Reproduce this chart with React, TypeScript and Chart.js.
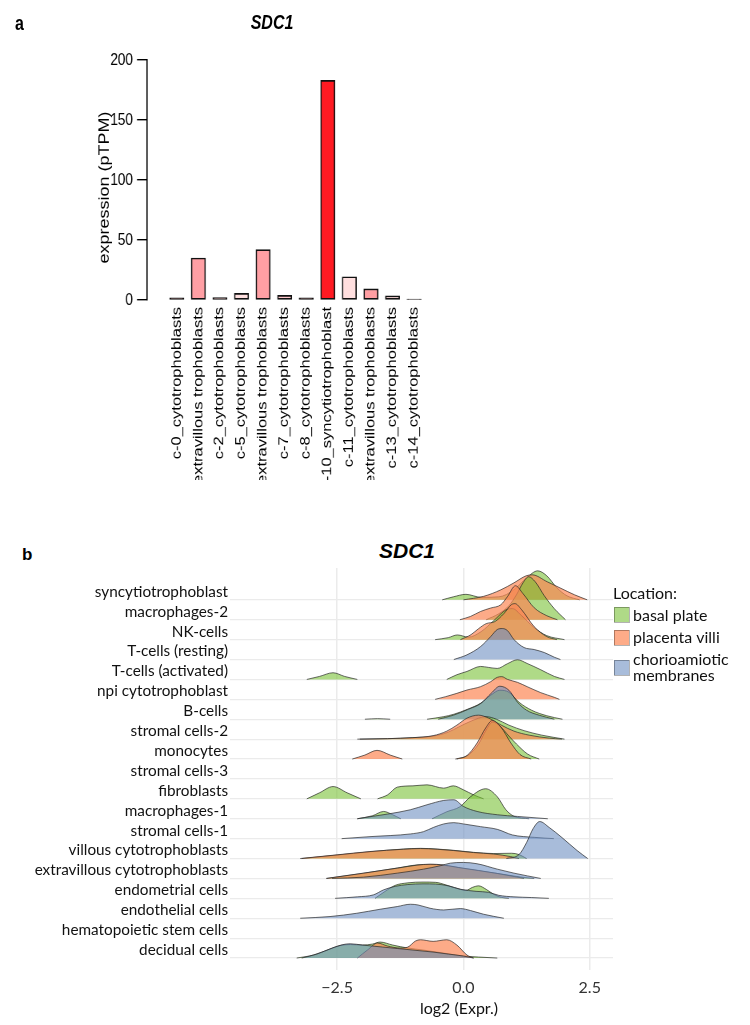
import { useEffect, useRef } from "react"
import { Chart, registerables } from "chart.js"

Chart.register(...registerables)

// ---------- panel a: expression per trophoblast cluster ----------
const clusters = [
  "c-0_cytotrophoblasts",
  "c-1_extravillous trophoblasts",
  "c-2_cytotrophoblasts",
  "c-5_cytotrophoblasts",
  "c-6_extravillous trophoblasts",
  "c-7_cytotrophoblasts",
  "c-8_cytotrophoblasts",
  "c-10_syncytiotrophoblast",
  "c-11_cytotrophoblasts",
  "c-12_extravillous trophoblasts",
  "c-13_cytotrophoblasts",
  "c-14_cytotrophoblasts",
]
const expression = [1.8, 35, 2, 5.5, 42, 3.8, 1.8, 183, 19.4, 9.3, 3.5, 0.8]
const clusterColors = [
  "#2a1616", "#ff9fa4", "#5a4242", "#ffe0e0", "#ff9fa4", "#ffc8cc",
  "#2a1616", "#ff1a22", "#ffdfdf", "#ff9ea2", "#ffd6d6", "#1a1010",
]
const expressionTicks = [0, 50, 100, 150, 200]

// ---------- panel b: ridgeline densities per cell type ----------
const cellTypes = [
  "syncytiotrophoblast",
  "macrophages-2",
  "NK-cells",
  "T-cells (resting)",
  "T-cells (activated)",
  "npi cytotrophoblast",
  "B-cells",
  "stromal cells-2",
  "monocytes",
  "stromal cells-3",
  "fibroblasts",
  "macrophages-1",
  "stromal cells-1",
  "villous cytotrophoblasts",
  "extravillous cytotrophoblasts",
  "endometrial cells",
  "endothelial cells",
  "hematopoietic stem cells",
  "decidual cells",
]
const locations = ["basal plate", "placenta villi", "chorioamiotic membranes"]
const log2Ticks = [-2.5, 0, 2.5]

type Curve = ([number, number] | null)[] | null

// [log2 expr, density] pairs, one entry per cell type (null = no cells); null inside a curve = gap
const basalPlate: Curve[] = [
  [[-0.42, 0], [-0.2, 3], [0.05, 5.5], [0.35, 2.5], [0.7, 3], [1.0, 10], [1.25, 22], [1.47, 29], [1.65, 24], [1.85, 12], [2.05, 4], [2.3, 0]],
  [[0.45, 0], [0.7, 6], [0.9, 14], [1.05, 25], [1.18, 37], [1.29, 43], [1.42, 38], [1.6, 24], [1.8, 11], [2.02, 0]],
  [[-0.56, 0], [-0.3, 2], [-0.12, 4.7], [0.1, 2.5], [0.35, 8], [0.6, 19], [0.85, 30], [0.97, 31], [1.15, 24], [1.4, 12], [1.65, 4], [2.0, 0]],
  null,
  [[-3.1, 0], [-2.85, 3], [-2.58, 6.7], [-2.35, 3], [-2.1, 0], null, [-0.33, 0], [-0.13, 4.7], [0.07, 8], [0.34, 13], [0.5, 12], [0.67, 11], [0.87, 15.7], [1.07, 19.7], [1.26, 16], [1.53, 9.7], [1.8, 3], [2.0, 0]],
  null,
  [[-1.95, 0], [-1.7, 0.6], [-1.45, 0], null, [-0.72, 0], [-0.4, 2.5], [-0.19, 5], [0.08, 10], [0.34, 16], [0.54, 24], [0.72, 29], [0.9, 27], [1.1, 17], [1.35, 9], [1.65, 3.5], [1.96, 0]],
  [[-2.05, 0], [-1.5, 0.5], [-1.0, 1.5], [-0.6, 3], [-0.3, 7], [-0.1, 12], [0.15, 18], [0.45, 22.5], [0.65, 20], [0.9, 14], [1.2, 8.5], [1.55, 4], [2.0, 0]],
  [[-0.13, 0], [0.1, 4], [0.3, 15], [0.45, 29], [0.58, 37], [0.72, 33], [0.9, 23], [1.05, 15], [1.27, 5], [1.5, 0]],
  null,
  [[-3.1, 0], [-2.85, 6], [-2.58, 12.3], [-2.3, 6], [-2.03, 0], null, [-1.7, 0], [-1.5, 4], [-1.31, 11.7], [-1.0, 13], [-0.72, 14], [-0.39, 10.7], [-0.2, 13], [0.0, 9], [0.2, 4], [0.4, 0]],
  [[-2.1, 0], [-1.8, 3], [-1.58, 7.3], [-1.4, 4], [-1.24, 0], null, [-0.62, 0], [-0.33, 7], [-0.07, 12], [0.14, 22], [0.44, 30], [0.67, 22], [0.84, 9], [1.0, 2.5], [1.3, 0]],
  null,
  [[-3.2, 0], [-2.5, 3.5], [-1.85, 6.8], [-1.19, 9.5], [-0.85, 10.2], [-0.52, 9.5], [-0.19, 8.2], [0.2, 6.2], [0.6, 5], [0.95, 5.3], [1.1, 4], [1.25, 0]],
  [[-2.7, 0], [-2.0, 5], [-1.3, 10.5], [-0.9, 13.6], [-0.6, 14], [-0.3, 12.5], [0, 10], [0.4, 7], [0.8, 4], [1.2, 1], [1.4, 0]],
  [[-1.75, 0], [-1.55, 7], [-1.35, 13], [-1.1, 15.5], [-0.8, 16.3], [-0.55, 16], [-0.35, 13.5], [-0.1, 9.5], [0.05, 8], [0.18, 11], [0.3, 12.5], [0.45, 9], [0.6, 4], [0.75, 1], [0.9, 0]],
  null,
  null,
  [[-3.3, 0], [-2.97, 3], [-2.64, 9], [-2.44, 12.5], [-2.24, 13.5], [-2.0, 13], [-1.8, 14], [-1.65, 16], [-1.4, 13], [-1.1, 10], [-0.8, 8], [-0.4, 5], [0, 2], [0.3, 1], [0.67, 0]],
]

const placentaVilli: Curve[] = [
  [[0.0, 0], [0.4, 3.5], [0.74, 10], [1.0, 17], [1.24, 24], [1.36, 25], [1.66, 18], [1.93, 11.5], [2.2, 5], [2.45, 0]],
  [[-0.07, 0], [0.14, 3.3], [0.34, 8.3], [0.54, 11.7], [0.74, 15], [0.87, 23], [1.03, 34], [1.18, 26], [1.4, 12], [1.65, 4], [1.86, 0]],
  [[-0.06, 0], [0.15, 5], [0.3, 11], [0.45, 16], [0.62, 18], [0.8, 26], [0.95, 35], [1.02, 36], [1.15, 30], [1.4, 13], [1.65, 3], [1.85, 0]],
  null,
  null,
  [[-0.56, 0], [-0.35, 2.7], [-0.13, 6], [0.07, 9.3], [0.34, 12.7], [0.54, 17.7], [0.67, 22], [0.76, 22.7], [0.87, 20], [1.07, 17], [1.26, 12.7], [1.53, 6.7], [1.8, 2], [1.9, 0]],
  null,
  [[-2.1, 0], [-1.5, 0.5], [-1.0, 1.5], [-0.6, 3.5], [-0.33, 8], [-0.13, 14], [0.07, 21], [0.3, 24], [0.5, 21], [0.75, 14], [1.0, 8], [1.3, 4], [1.7, 1], [1.95, 0]],
  [[-2.2, 0], [-1.95, 4], [-1.71, 8.7], [-1.45, 4], [-1.21, 0], null, [-0.16, 0], [0.07, 3.5], [0.27, 16], [0.44, 31], [0.57, 38.5], [0.74, 32], [0.94, 16], [1.12, 4.5], [1.34, 0]],
  null,
  null,
  null,
  null,
  [[-3.23, 0], [-2.5, 3.7], [-1.85, 7], [-1.19, 9.3], [-0.85, 10], [-0.52, 9.3], [-0.19, 8], [0.2, 6], [0.6, 4.5], [0.93, 2], [1.1, 0]],
  [[-2.72, 0], [-1.98, 5.3], [-1.31, 10.3], [-0.92, 13.3], [-0.66, 14.3], [-0.4, 13.5], [-0.1, 11], [0.3, 8], [0.67, 5], [1.05, 1.5], [1.2, 0]],
  null,
  null,
  null,
  [[-2.1, 0], [-1.9, 8], [-1.7, 15], [-1.5, 12], [-1.25, 10], [-1.1, 11], [-0.95, 17], [-0.85, 18.3], [-0.6, 16.7], [-0.33, 18.3], [-0.13, 13], [0.07, 3], [0.2, 0]],
]

const chorioMembranes: Curve[] = [
  null,
  null,
  null,
  [[-0.19, 0], [0.07, 4.7], [0.34, 13], [0.54, 23], [0.67, 30], [0.77, 31], [0.87, 29], [1.0, 20], [1.2, 12], [1.4, 10], [1.6, 7], [1.8, 2.3], [1.92, 0]],
  null,
  null,
  [[-0.5, 0], [-0.2, 4], [0.1, 10], [0.35, 16], [0.55, 26], [0.72, 33], [0.9, 29], [1.07, 17], [1.25, 9], [1.5, 4], [1.8, 0]],
  null,
  null,
  null,
  null,
  [[-2.1, 0], [-1.85, 2], [-1.5, 4.7], [-1.05, 9], [-0.72, 14], [-0.39, 18.3], [-0.19, 19], [0.0, 12.3], [0.27, 7.3], [0.67, 4], [1.07, 2.3], [1.67, 0]],
  [[-2.41, 0], [-1.85, 2], [-1.05, 4.7], [-0.79, 7], [-0.59, 11.3], [-0.39, 14.7], [-0.19, 16], [0, 14.7], [0.34, 12], [0.67, 9.3], [0.97, 3.7], [1.4, 1.3], [1.79, 0]],
  [[0.85, 0], [1.1, 4], [1.25, 16], [1.38, 30], [1.51, 37], [1.7, 31], [1.95, 21], [2.25, 8], [2.46, 0]],
  [[-2.6, 0], [-1.98, 1.3], [-1.31, 5.3], [-0.79, 9.3], [-0.46, 12.7], [-0.26, 15.3], [0, 16], [0.27, 14.7], [0.67, 9.3], [1.0, 5.3], [1.53, 0]],
  [[-2.54, 0], [-2.1, 1.5], [-1.78, 3.5], [-1.58, 8.5], [-1.35, 12], [-1.1, 13.8], [-0.8, 14.5], [-0.55, 14.3], [-0.3, 12.5], [-0.05, 9], [0.25, 7], [0.5, 6], [0.7, 3], [1.0, 1.5], [1.35, 0.8], [1.69, 0]],
  [[-3.23, 0], [-2.64, 1.7], [-2.11, 5], [-1.65, 9], [-1.31, 11.7], [-1.05, 14], [-0.9, 13.3], [-0.66, 10], [-0.39, 8.3], [-0.06, 9.7], [0.14, 7.7], [0.4, 4], [0.8, 0]],
  null,
  [[-3.2, 0], [-2.9, 4], [-2.6, 10], [-2.4, 13.3], [-2.24, 14.3], [-2.0, 13], [-1.8, 12], [-1.6, 11], [-1.3, 9.5], [-1.0, 8], [-0.6, 6], [-0.3, 4], [0, 2], [0.2, 0]],
]

const ARIAL = '"Liberation Sans", Arial, sans-serif'
const HUMANIST = 'Lato, "Open Sans", sans-serif'
const FILLS = ["rgba(122,193,55,0.6)", "rgba(252,135,85,0.7)", "rgba(110,143,193,0.6)"]
const RIDGE_UNIT = 19.9 // density units per row step

function ExpressionBars() {
  const canvasRef = useRef<HTMLCanvasElement>(null)

  useEffect(() => {
    if (!canvasRef.current) return

    const yTitle = {
      id: "yTitle",
      afterDraw(chart: Chart) {
        const ctx = chart.ctx
        ctx.save()
        ctx.translate(121, 179.5)
        ctx.rotate(-Math.PI / 2)
        ctx.font = `18px ${ARIAL}`
        ctx.fillStyle = "#000"
        ctx.textAlign = "center"
        ctx.textBaseline = "middle"
        ctx.fillText("expression (pTPM)", 0, 0)
        ctx.restore()
      },
    }

    const chart = new Chart(canvasRef.current, {
      type: "bar",
      data: {
        datasets: [
          {
            data: expression.map((v, i) => ({ x: i, y: v })),
            backgroundColor: clusterColors,
            borderColor: "#111",
            borderWidth: 1.7,
            borderSkipped: false,
            barThickness: 18,
            clip: false,
          },
        ],
      },
      options: {
        animation: false,
        responsive: false,
        maintainAspectRatio: false,
        layout: { padding: { top: 52, right: 379, bottom: 0, left: 0 } },
        scales: {
          x: {
            type: "linear",
            min: -0.817,
            max: 11.6,
            afterBuildTicks: (s) => {
              s.ticks = clusters.map((_, i) => ({ value: i }))
            },
            afterFit: (s) => {
              s.height = 180
            },
            grid: { display: false, drawTicks: false },
            border: { display: false },
            ticks: {
              autoSkip: false,
              minRotation: 90,
              maxRotation: 90,
              padding: 7,
              color: "#000",
              font: { family: ARIAL, size: 16.5 },
              callback: (v) => clusters[v as number] ?? "",
            },
          },
          y: {
            min: 0,
            max: 200,
            afterBuildTicks: (s) => {
              s.ticks = expressionTicks.map((v) => ({ value: v }))
            },
            afterFit: (s) => {
              s.width = 173.75
            },
            grid: { drawOnChartArea: false, drawTicks: true, tickLength: 12.5, color: "#000", lineWidth: 1.4 },
            border: { display: true, color: "#000", width: 1.6 },
            ticks: { padding: 5, color: "#000", font: { family: ARIAL, size: 17 } },
          },
        },
        plugins: { legend: { display: false }, tooltip: { enabled: false } },
      },
      plugins: [yTitle],
    })

    return () => chart.destroy()
  }, [])

  return <canvas ref={canvasRef} width={918} height={472} />
}

function RidgePlot() {
  const canvasRef = useRef<HTMLCanvasElement>(null)

  useEffect(() => {
    if (!canvasRef.current) return

    const top = cellTypes.length - 1
    const datasets: any[] = []
    cellTypes.forEach((_, row) => {
      const base = top - row
      ;[basalPlate, placentaVilli, chorioMembranes].forEach((series, g) => {
        const curve = series[row]
        if (!curve) return
        let lastX = 0
        const pts = curve.map((p) => {
          if (!p) return { x: lastX + 0.001, y: null }
          lastX = p[0]
          return { x: p[0], y: base + p[1] / RIDGE_UNIT }
        })
        datasets.push({
          type: "line",
          data: pts,
          fill: { value: base },
          backgroundColor: FILLS[g],
          borderColor: "rgba(35,35,35,0.75)",
          borderWidth: 0.9,
          pointRadius: 0,
          cubicInterpolationMode: "monotone",
          spanGaps: false,
        })
      })
    })
    datasets.forEach((d, k) => {
      d.order = datasets.length - k
    })

    const extras = {
      id: "ridgeExtras",
      afterDraw(chart: Chart) {
        const ctx = chart.ctx
        ctx.save()
        ctx.fillStyle = "#111"
        ctx.font = `16px ${HUMANIST}`
        ctx.textBaseline = "middle"
        ctx.textAlign = "left"
        ctx.fillText("Location:", 605, 64)
        const boxes = [77, 100, 130]
        const labelLines = [["basal plate"], ["placenta villi"], ["chorioamiotic", "membranes"]]
        const lineY = [[86], [108], [130, 146]]
        locations.forEach((_, i) => {
          ctx.fillStyle = FILLS[i]
          ctx.fillRect(606, boxes[i], 15, 15)
          ctx.strokeStyle = "rgba(0,0,0,0.3)"
          ctx.lineWidth = 1
          ctx.strokeRect(606.5, boxes[i] + 0.5, 15, 15)
          ctx.fillStyle = "#111"
          labelLines[i].forEach((t, j) => ctx.fillText(t, 625, lineY[i][j]))
        })
        ctx.textAlign = "center"
        ctx.fillText("log2 (Expr.)", 451, 479)
        ctx.restore()
      },
    }

    const chart = new Chart(canvasRef.current, {
      type: "line",
      data: { datasets },
      options: {
        animation: false,
        responsive: false,
        maintainAspectRatio: false,
        layout: { padding: { top: 38, right: 129, bottom: 0, left: 0 } },
        scales: {
          x: {
            type: "linear",
            min: -4.62,
            max: 2.96,
            afterBuildTicks: (s) => {
              s.ticks = log2Ticks.map((v) => ({ value: v }))
            },
            afterFit: (s) => {
              s.height = 47
            },
            grid: { color: "#ebebeb", lineWidth: 1.5, drawTicks: false },
            border: { display: false },
            ticks: {
              padding: 8,
              color: "#333",
              font: { family: HUMANIST, size: 16 },
              callback: (v) => {
                const n = v as number
                return n < 0 ? "\u2212" + Math.abs(n).toFixed(1) : n.toFixed(1)
              },
            },
          },
          y: {
            type: "linear",
            min: -0.6,
            max: 19.6,
            afterBuildTicks: (s) => {
              s.ticks = cellTypes.map((_, i) => ({ value: i }))
            },
            afterFit: (s) => {
              s.width = 222
            },
            grid: { color: "#ebebeb", lineWidth: 1.2, drawTicks: false },
            border: { display: false },
            ticks: {
              autoSkip: false,
              padding: 2,
              labelOffset: -8,
              color: "#111",
              font: { family: HUMANIST, size: 15.3 },
              callback: (v) => cellTypes[top - (v as number)] ?? "",
            },
          },
        },
        plugins: { legend: { display: false }, tooltip: { enabled: false } },
      },
      plugins: [extras],
    })

    return () => chart.destroy()
  }, [])

  return <canvas ref={canvasRef} width={734} height={487} />
}

export default function App() {
  return (
    <div style={{ position: "relative", width: 734, height: 1009, overflow: "hidden" }}>
      <div
        style={{
          position: "absolute",
          left: 0,
          top: 0,
          width: 918,
          height: 472,
          transform: "scaleX(0.8)",
          transformOrigin: "0 0",
        }}
      >
        <ExpressionBars />
        <div style={{ position: "absolute", left: 8.75, top: 5, font: `bold 20px/20px ${ARIAL}` }}>a</div>
        <div
          style={{
            position: "absolute",
            left: 330,
            top: 4,
            transform: "translateX(-50%)",
            font: `italic bold 20px/20px ${ARIAL}`,
          }}
        >
          SDC1
        </div>
      </div>
      <div style={{ position: "absolute", left: 14, top: 538, font: `bold 17px/17px ${ARIAL}` }}>b</div>
      <div
        style={{
          position: "absolute",
          left: 399,
          top: 532,
          transform: "translateX(-50%)",
          font: `italic bold 21px/21px ${ARIAL}`,
        }}
      >
        SDC1
      </div>
      <div style={{ position: "absolute", left: 0, top: 522 }}>
        <RidgePlot />
      </div>
    </div>
  )
}
